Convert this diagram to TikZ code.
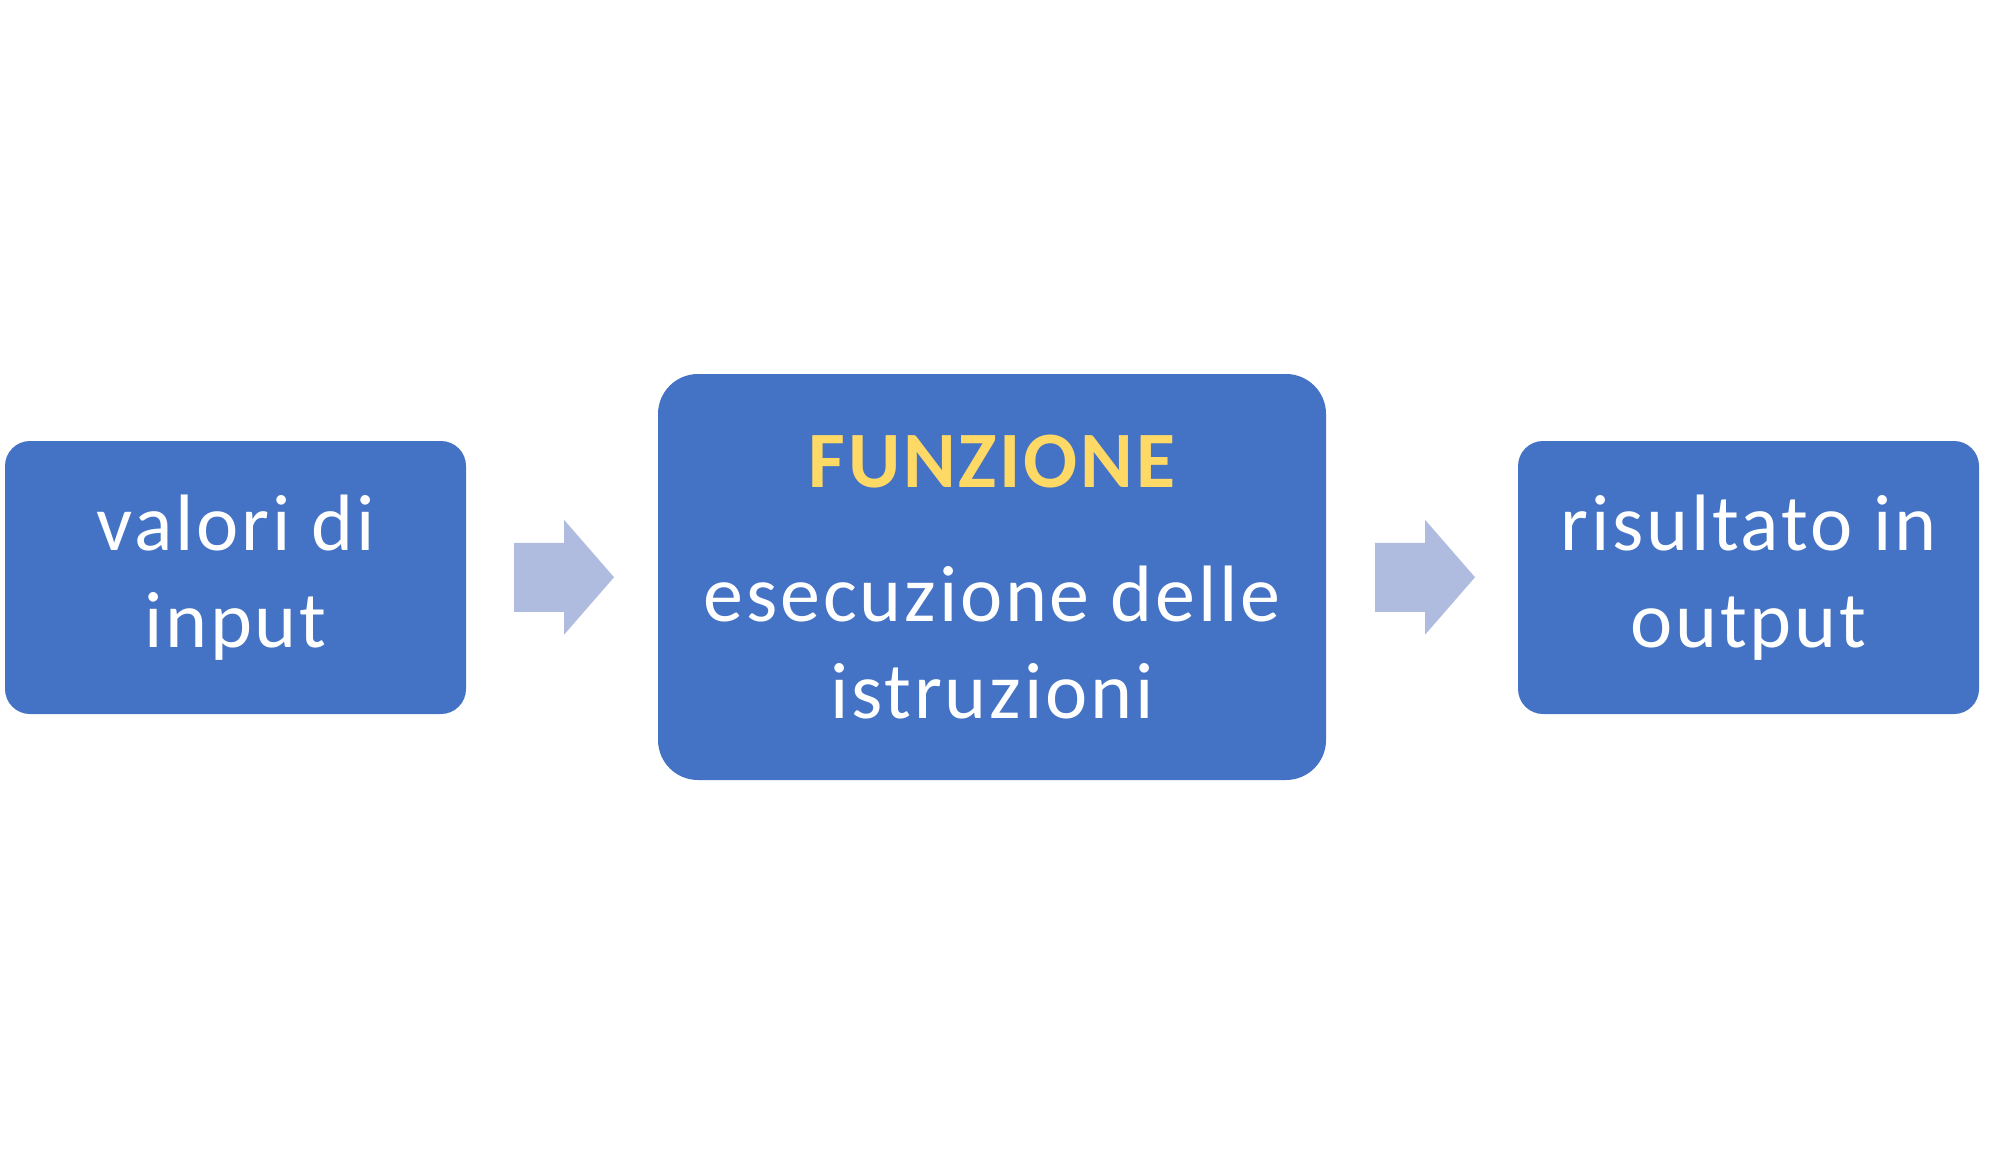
\documentclass[tikz,border=0pt]{standalone}
\usepackage{fontspec}
\setmainfont[LetterSpace=3.5]{Carlito}
\usetikzlibrary{calc}
\definecolor{boxblue}{HTML}{4472C4}
\definecolor{arrowblue}{HTML}{AFBCDF}
\definecolor{titleyellow}{HTML}{FFD966}
\begin{document}
\begin{tikzpicture}[x=0.5pt,y=-0.5pt,
  procbox/.style={fill=boxblue,draw=none,rounded corners=12.5pt,inner sep=0pt,
    text=white,align=center,font=\fontsize{40pt}{48.5pt}\selectfont},
  flowarrow/.style={fill=arrowblue,draw=none}]
\useasboundingbox (0,0) rectangle (2011,1155);
\node[procbox,minimum width=230.5pt,minimum height=136.5pt] (in) at (235.5,577.5) {valori di\\input};
\node[procbox,minimum width=334pt,minimum height=203pt,rounded corners=20pt] (fn) at (992,577) {{\bfseries\color{titleyellow}FUNZIONE}\\[18.5pt]esecuzione delle\\istruzioni};
\node[procbox,minimum width=230.5pt,minimum height=136.5pt] (out) at (1748.5,577.5) {risultato in\\output};
\coordinate (a1) at ($(in.east)!0.5!(fn.west)+(2,0)$);
\coordinate (a2) at ($(fn.east)!0.5!(out.west)+(3,0)$);
\foreach \c in {a1,a2}
  \fill[flowarrow] (\c) ++(-50,-34.5) -- ++(50,0) -- ++(0,-23) -- ++(50,57.5)
     -- ++(-50,57.5) -- ++(0,-23) -- ++(-50,0) -- cycle;
\end{tikzpicture}
\end{document}
